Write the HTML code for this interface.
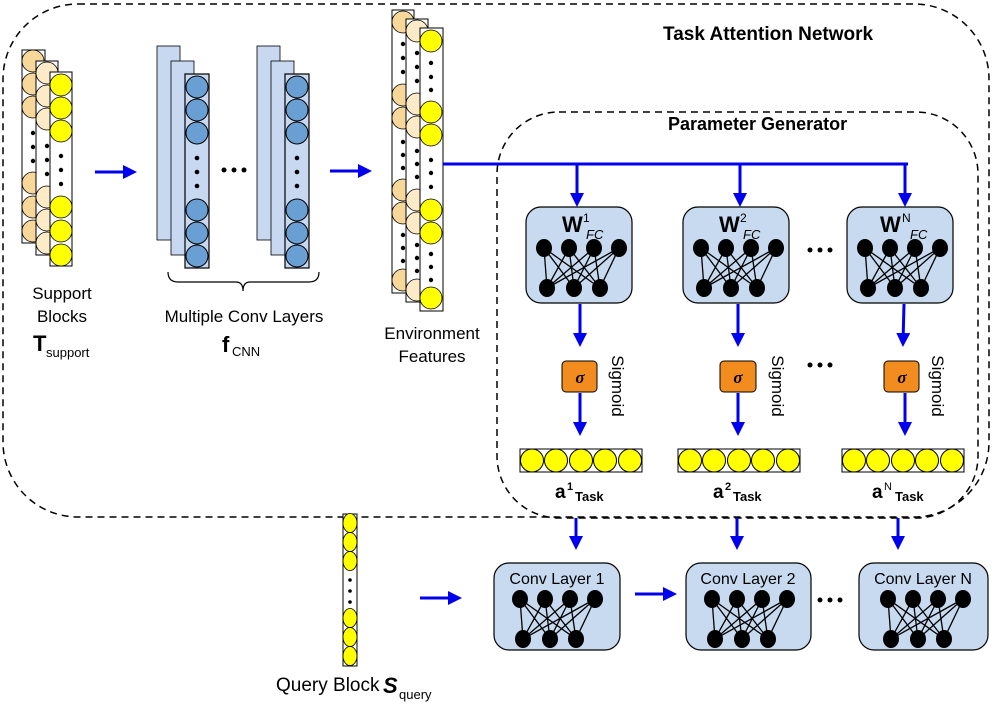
<!DOCTYPE html>
<html><head><meta charset="utf-8"><style>
html,body{margin:0;padding:0;background:#fff;}
svg{display:block;font-family:"Liberation Sans",sans-serif;}
</style></head><body>
<svg width="998" height="708" viewBox="0 0 998 708" xmlns="http://www.w3.org/2000/svg">
<defs>
<marker id="ah" markerWidth="14" markerHeight="14" refX="10" refY="7" orient="auto" markerUnits="userSpaceOnUse"><path d="M0,0 L14,7 L0,14 z" fill="#0000ee"/></marker>
<g id="net">
 <g stroke="#000" stroke-width="1.3">
  <line x1="0" y1="0" x2="3" y2="40"/><line x1="0" y1="0" x2="30" y2="40"/><line x1="0" y1="0" x2="56" y2="40"/>
  <line x1="25" y1="0" x2="3" y2="40"/><line x1="25" y1="0" x2="30" y2="40"/><line x1="25" y1="0" x2="56" y2="40"/>
  <line x1="50" y1="0" x2="3" y2="40"/><line x1="50" y1="0" x2="30" y2="40"/><line x1="50" y1="0" x2="56" y2="40"/>
  <line x1="75" y1="0" x2="3" y2="40"/><line x1="75" y1="0" x2="30" y2="40"/><line x1="75" y1="0" x2="56" y2="40"/>
 </g>
 <g fill="#000"><ellipse cx="0" cy="0" rx="8" ry="9"/><ellipse cx="25" cy="0" rx="8" ry="9"/><ellipse cx="50" cy="0" rx="8" ry="9"/><ellipse cx="75" cy="0" rx="8" ry="9"/>
 <ellipse cx="3" cy="40" rx="8" ry="9"/><ellipse cx="30" cy="40" rx="8" ry="9"/><ellipse cx="56" cy="40" rx="8" ry="9"/></g>
</g>
<g id="bar">
 <rect x="0" y="0" width="122" height="23" fill="#fff" stroke="#000"/>
 <g fill="#ffff00" stroke="#000"><circle cx="12" cy="11.5" r="11.5"/><circle cx="36" cy="11.5" r="11.5"/><circle cx="61" cy="11.5" r="11.5"/><circle cx="85" cy="11.5" r="11.5"/><circle cx="110" cy="11.5" r="11.5"/></g>
</g>
<g id="convcol">
 <rect x="0" y="0" width="23" height="194" fill="#c7d8f0" stroke="#000" stroke-width="0.8"/>
 <rect x="14" y="15" width="23" height="194" fill="#c7d8f0" stroke="#000" stroke-width="0.8"/>
 <rect x="28" y="28" width="24" height="194" fill="#c7d8f0" stroke="#000" stroke-width="1.2"/>
 <g fill="#6a9fd4" stroke="#000"><circle cx="40" cy="41" r="11"/><circle cx="40" cy="64" r="11"/><circle cx="40" cy="87" r="11"/><circle cx="40" cy="164" r="11"/><circle cx="40" cy="187" r="11"/><circle cx="40" cy="210" r="11"/></g>
 <g fill="#000"><circle cx="40" cy="112" r="2.3"/><circle cx="40" cy="126" r="2.3"/><circle cx="40" cy="140" r="2.3"/></g>
</g>
</defs>

<rect x="3" y="4" width="986" height="513" rx="75" fill="none" stroke="#000" stroke-width="1.5" stroke-dasharray="7,5"/>
<rect x="497" y="112" width="481" height="406" rx="62" fill="none" stroke="#000" stroke-width="1.5" stroke-dasharray="7,5"/>
<text x="663" y="40" font-size="19" font-weight="bold">Task Attention Network</text>
<text x="668" y="130" font-size="18" font-weight="bold">Parameter Generator</text>

<rect x="22" y="50" width="23" height="193" fill="#fff" stroke="#000"/>
<g fill="#f7d79a" stroke="#000" stroke-width="0.8"><circle cx="33" cy="61" r="11"/><circle cx="33" cy="84" r="11"/><circle cx="33" cy="107" r="11"/><circle cx="33" cy="183" r="11"/><circle cx="33" cy="207" r="11"/><circle cx="33" cy="231" r="11"/></g>
<g fill="#000"><circle cx="33" cy="133" r="2.2"/><circle cx="33" cy="147" r="2.2"/><circle cx="33" cy="161" r="2.2"/></g>
<rect x="36" y="61" width="22" height="194" fill="#fff" stroke="#000"/>
<g fill="#fdebc8" stroke="#000" stroke-width="0.8"><circle cx="47" cy="73" r="11"/><circle cx="47" cy="96" r="11"/><circle cx="47" cy="119" r="11"/><circle cx="47" cy="197" r="11"/><circle cx="47" cy="220" r="11"/><circle cx="47" cy="243" r="11"/></g>
<g fill="#000"><circle cx="47" cy="146" r="2.2"/><circle cx="47" cy="160" r="2.2"/><circle cx="47" cy="174" r="2.2"/></g>
<rect x="50" y="72" width="22" height="194" fill="#fff" stroke="#000"/>
<g fill="#ffff00" stroke="#000" stroke-width="0.8"><circle cx="61" cy="85" r="11"/><circle cx="61" cy="108" r="11"/><circle cx="61" cy="131" r="11"/><circle cx="61" cy="207" r="11"/><circle cx="61" cy="231" r="11"/><circle cx="61" cy="255" r="11"/></g>
<g fill="#000"><circle cx="61" cy="156" r="2.2"/><circle cx="61" cy="170" r="2.2"/><circle cx="61" cy="184" r="2.2"/></g>
<text x="62" y="299" font-size="17" text-anchor="middle">Support</text>
<text x="62" y="322" font-size="17" text-anchor="middle">Blocks</text>
<text x="33" y="351" font-size="22" font-weight="bold">T</text><text x="46" y="357" font-size="13">support</text>

<line x1="95" y1="172" x2="133" y2="172" stroke="#0000ee" stroke-width="3" marker-end="url(#ah)"/>

<use href="#convcol" x="157" y="46"/>
<use href="#convcol" x="257" y="46"/>
<g fill="#000"><circle cx="224" cy="170" r="2.5"/><circle cx="234" cy="170" r="2.5"/><circle cx="244" cy="170" r="2.5"/></g>
<path d="M168,272 Q168,282 178,282 L236,282 Q243,282 243,291 Q243,282 250,282 L309,282 Q319,282 319,272" fill="none" stroke="#000" stroke-width="1.2"/>
<text x="244" y="322" font-size="17" text-anchor="middle">Multiple Conv Layers</text>
<text x="222" y="352" font-size="22" font-weight="bold">f</text><text x="232" y="356" font-size="13">CNN</text>

<line x1="330" y1="171" x2="368" y2="171" stroke="#0000ee" stroke-width="3" marker-end="url(#ah)"/>

<rect x="392" y="10" width="22" height="283" fill="#fff" stroke="#000"/>
<g fill="#f7d79a" stroke="#000" stroke-width="0.8"><circle cx="403" cy="22" r="11"/><circle cx="403" cy="95" r="11"/><circle cx="403" cy="118" r="11"/><circle cx="403" cy="190" r="11"/><circle cx="403" cy="213" r="11"/><circle cx="403" cy="280" r="11"/></g>
<g fill="#000"><circle cx="403" cy="44" r="2.2"/><circle cx="403" cy="58" r="2.2"/><circle cx="403" cy="72" r="2.2"/><circle cx="403" cy="142" r="2.2"/><circle cx="403" cy="155" r="2.2"/><circle cx="403" cy="168" r="2.2"/><circle cx="403" cy="235" r="2.2"/><circle cx="403" cy="248" r="2.2"/><circle cx="403" cy="261" r="2.2"/></g>
<rect x="406" y="19" width="22" height="283" fill="#fff" stroke="#000"/>
<g fill="#fdebc8" stroke="#000" stroke-width="0.8"><circle cx="417" cy="31" r="11"/><circle cx="417" cy="104" r="11"/><circle cx="417" cy="127" r="11"/><circle cx="417" cy="200" r="11"/><circle cx="417" cy="223" r="11"/><circle cx="417" cy="290" r="11"/></g>
<g fill="#000"><circle cx="417" cy="53" r="2.2"/><circle cx="417" cy="67" r="2.2"/><circle cx="417" cy="81" r="2.2"/><circle cx="417" cy="151" r="2.2"/><circle cx="417" cy="164" r="2.2"/><circle cx="417" cy="177" r="2.2"/><circle cx="417" cy="245" r="2.2"/><circle cx="417" cy="258" r="2.2"/><circle cx="417" cy="271" r="2.2"/></g>
<rect x="420" y="28" width="23" height="283" fill="#fff" stroke="#000"/>
<g fill="#ffff00" stroke="#000" stroke-width="0.8"><circle cx="431" cy="41" r="11"/><circle cx="431" cy="112" r="11"/><circle cx="431" cy="135" r="11"/><circle cx="431" cy="210" r="11"/><circle cx="431" cy="233" r="11"/><circle cx="431" cy="298" r="11"/></g>
<g fill="#000"><circle cx="431" cy="63" r="2.2"/><circle cx="431" cy="77" r="2.2"/><circle cx="431" cy="90" r="2.2"/><circle cx="431" cy="160" r="2.2"/><circle cx="431" cy="173" r="2.2"/><circle cx="431" cy="187" r="2.2"/><circle cx="431" cy="254" r="2.2"/><circle cx="431" cy="267" r="2.2"/><circle cx="431" cy="280" r="2.2"/></g>
<text x="432" y="339" font-size="17" text-anchor="middle">Environment</text>
<text x="432" y="362" font-size="17" text-anchor="middle">Features</text>

<line x1="443" y1="164" x2="908" y2="164" stroke="#0000ee" stroke-width="3"/>
<g stroke="#0000ee" stroke-width="3" marker-end="url(#ah)">
<line x1="577" y1="164" x2="577" y2="203"/>
<line x1="740" y1="164" x2="740" y2="203"/>
<line x1="905" y1="164" x2="905" y2="203"/>
<line x1="580" y1="304" x2="580" y2="343"/>
<line x1="738" y1="304" x2="738" y2="343"/>
<line x1="904" y1="304" x2="903" y2="343"/>
<line x1="580" y1="393" x2="580" y2="432"/>
<line x1="738" y1="393" x2="738" y2="432"/>
<line x1="905" y1="393" x2="905" y2="432"/>
<line x1="576" y1="518" x2="576" y2="546"/>
<line x1="737" y1="518" x2="737" y2="546"/>
<line x1="898" y1="518" x2="898" y2="546"/>
<line x1="420" y1="598" x2="458" y2="598"/>
<line x1="635" y1="594" x2="673" y2="594"/>
</g>

<g fill="#c7daf0" stroke="#000" stroke-width="1.2">
<rect x="526" y="207" width="106" height="96" rx="15"/>
<rect x="683" y="207" width="106" height="96" rx="15"/>
<rect x="847" y="207" width="106" height="96" rx="15"/>
</g>
<use href="#net" x="544" y="248"/><use href="#net" x="701" y="248"/><use href="#net" x="865" y="248"/>
<text x="562" y="232" font-size="22" font-weight="bold">W</text><text x="583" y="222" font-size="12">1</text><text x="586" y="239" font-size="13" font-style="italic">FC</text>
<text x="719" y="232" font-size="22" font-weight="bold">W</text><text x="740" y="222" font-size="12">2</text><text x="743" y="239" font-size="13" font-style="italic">FC</text>
<text x="880" y="232" font-size="22" font-weight="bold">W</text><text x="902" y="222" font-size="12">N</text><text x="910" y="239" font-size="13" font-style="italic">FC</text>
<g fill="#000"><circle cx="810" cy="250" r="2.5"/><circle cx="820" cy="250" r="2.5"/><circle cx="830" cy="250" r="2.5"/>
<circle cx="810" cy="365" r="2.5"/><circle cx="820" cy="365" r="2.5"/><circle cx="830" cy="365" r="2.5"/>
<circle cx="820" cy="600" r="2.5"/><circle cx="830" cy="600" r="2.5"/><circle cx="840" cy="600" r="2.5"/></g>

<g fill="#f28c1e" stroke="#000" stroke-width="1">
<rect x="562" y="361" width="35" height="31" rx="4"/>
<rect x="720" y="361" width="36" height="31" rx="4"/>
<rect x="884" y="361" width="35" height="31" rx="4"/>
</g>
<g font-size="17" font-weight="bold" font-style="italic" font-family="Liberation Serif,serif" text-anchor="middle">
<text x="580" y="383">σ</text><text x="738" y="383">σ</text><text x="902" y="383">σ</text></g>
<g font-size="17" text-anchor="middle">
<text transform="translate(612,386) rotate(90)">Sigmoid</text>
<text transform="translate(772,386) rotate(90)">Sigmoid</text>
<text transform="translate(932,386) rotate(90)">Sigmoid</text>
</g>

<use href="#bar" x="520" y="449"/><use href="#bar" x="678" y="449"/><use href="#bar" x="842" y="449"/>
<text x="555" y="498" font-size="19" font-weight="bold">a</text><text x="567" y="490" font-size="11" font-weight="bold">1</text><text x="575" y="501" font-size="13" font-weight="bold">Task</text>
<text x="713" y="498" font-size="19" font-weight="bold">a</text><text x="725" y="490" font-size="11" font-weight="bold">2</text><text x="733" y="501" font-size="13" font-weight="bold">Task</text>
<text x="872" y="498" font-size="19" font-weight="bold">a</text><text x="884" y="490" font-size="11">N</text><text x="895" y="501" font-size="13" font-weight="bold">Task</text>

<rect x="343" y="514" width="14" height="152" fill="#fff" stroke="#000"/>
<g fill="#ffff00" stroke="#000" stroke-width="0.8"><ellipse cx="350" cy="523" rx="7" ry="9.5"/><ellipse cx="350" cy="542" rx="7" ry="9.5"/><ellipse cx="350" cy="561" rx="7" ry="9.5"/><ellipse cx="350" cy="618" rx="7" ry="9.5"/><ellipse cx="350" cy="637" rx="7" ry="9.5"/><ellipse cx="350" cy="656" rx="7" ry="9.5"/></g>
<g fill="#000"><circle cx="350" cy="580" r="1.8"/><circle cx="350" cy="591" r="1.8"/><circle cx="350" cy="602" r="1.8"/></g>
<text x="276" y="691" font-size="19">Query Block </text><text x="383" y="693" font-size="22" font-weight="bold" font-style="italic">S</text><text x="399" y="699" font-size="13">query</text>

<g fill="#c7daf0" stroke="#000" stroke-width="1.2">
<rect x="494" y="563" width="126" height="87" rx="15"/>
<rect x="686" y="563" width="125" height="87" rx="15"/>
<rect x="859" y="563" width="129" height="87" rx="15"/>
</g>
<g font-size="16" text-anchor="middle">
<text x="557" y="584">Conv Layer 1</text><text x="748" y="584">Conv Layer 2</text><text x="923" y="584">Conv Layer N</text>
</g>
<use href="#net" x="520" y="599"/><use href="#net" x="712" y="599"/><use href="#net" x="888" y="599"/>
</svg>
</body></html>
